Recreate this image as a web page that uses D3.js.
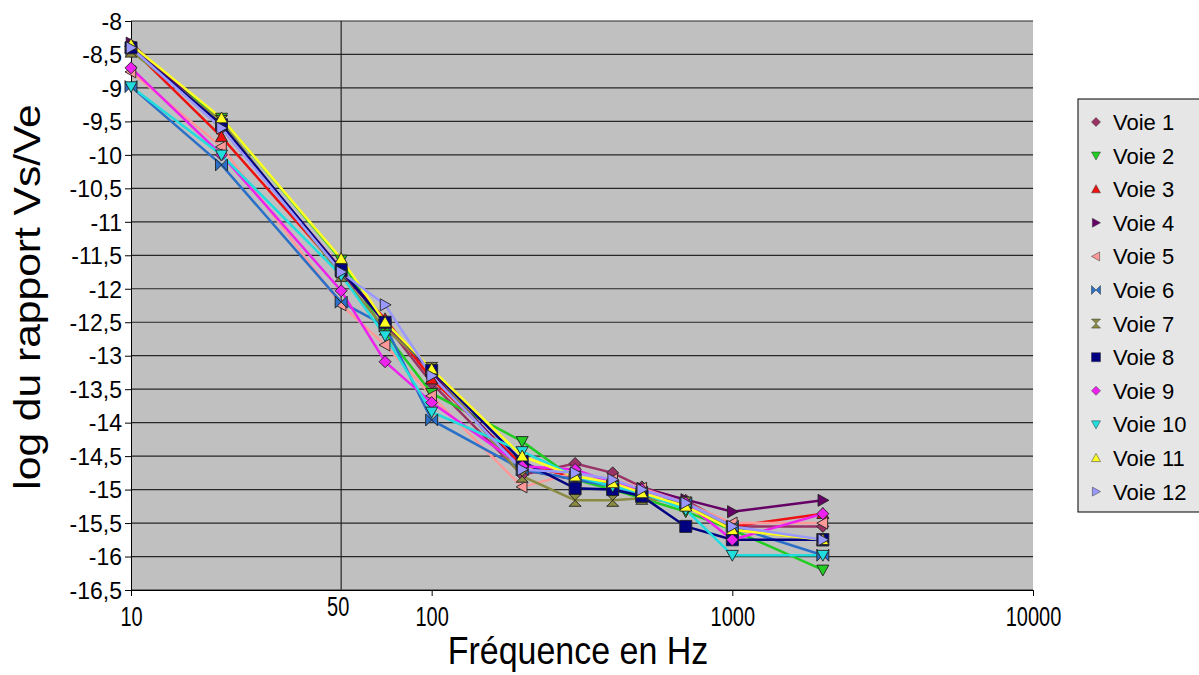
<!DOCTYPE html>
<html><head><meta charset="utf-8">
<script src="https://cdn.jsdelivr.net/npm/d3@7"></script>
<style>body{margin:0;background:#fff;} svg{display:block;font-family:Arial,"Liberation Sans",sans-serif;}</style>
</head><body>
<svg id="c" width="1199" height="675"></svg>
<script>
const frequencies = [10, 20, 50, 70, 100, 200, 300, 400, 500, 700, 1000, 2000];
const seriesNames = ["Voie 1","Voie 2","Voie 3","Voie 4","Voie 5","Voie 6","Voie 7","Voie 8","Voie 9","Voie 10","Voie 11","Voie 12"];
const voie1  = [-8.38, -9.60, -11.70, -12.52, -13.41, -14.78, -14.61, -14.75, -14.96, -15.16, -15.55, -15.55];
const voie2  = [-8.45, -9.45, -11.57, -12.66, -13.56, -14.28, -14.85, -15.00, -15.13, -15.33, -15.60, -16.20];
const voie3  = [-8.40, -9.73, -11.75, -12.45, -13.35, -14.63, -14.81, -14.90, -15.00, -15.20, -15.55, -15.36];
const voie4  = [-8.33, -9.55, -11.75, -12.50, -13.25, -14.70, -14.85, -14.93, -14.98, -15.15, -15.33, -15.16];
const voie5  = [-8.76, -9.88, -12.24, -12.84, -13.60, -14.96, -14.75, -14.85, -14.98, -15.20, -15.50, -15.50];
const voie6  = [-8.98, -10.15, -12.20, -12.55, -13.96, -14.70, -14.85, -14.95, -15.10, -15.20, -15.55, -15.98];
const voie7  = [-8.45, -9.50, -11.80, -12.60, -13.19, -14.80, -15.16, -15.16, -15.13, -15.20, -15.60, -15.75];
const voie8  = [-8.40, -9.55, -11.72, -12.50, -13.22, -14.58, -14.98, -15.00, -15.10, -15.55, -15.75, -15.75];
const voie9  = [-8.70, -10.00, -12.03, -13.09, -13.70, -14.65, -14.70, -14.90, -15.00, -15.20, -15.75, -15.36];
const voie10 = [-8.98, -10.00, -11.80, -12.70, -13.84, -14.43, -14.80, -14.95, -15.05, -15.30, -15.98, -15.98];
const voie11 = [-8.35, -9.45, -11.55, -12.50, -13.20, -14.50, -14.80, -14.90, -15.05, -15.25, -15.60, -15.75];
const voie12 = [-8.40, -9.60, -11.75, -12.24, -13.30, -14.70, -14.75, -14.85, -15.00, -15.20, -15.55, -15.75];
const seriesValues = [voie1,voie2,voie3,voie4,voie5,voie6,voie7,voie8,voie9,voie10,voie11,voie12];
const colors = ["#993366","#22cc22","#ee1111","#660066","#ff9999","#2a6fc8","#8a8a40","#000080","#ee22ee","#22dddd","#ffff22","#9999ff"];
const shapes = ["diamond","down","up","right","left","bowtie","hourglass","square","diamond","down","up","right"];
const yTicks = [-8,-8.5,-9,-9.5,-10,-10.5,-11,-11.5,-12,-12.5,-13,-13.5,-14,-14.5,-15,-15.5,-16,-16.5];
const xTicks = [10, 100, 1000, 10000];
const xMarkLine = 50;

const svg = d3.select("#c");
const L=131, R=1033, T=21, B=590;
const x = d3.scaleLog().domain([10,10000]).range([L,R]);
const y = d3.scaleLinear().domain([-16.5,-8]).range([B,T]);

svg.append("rect").attr("x",L).attr("y",T).attr("width",R-L).attr("height",B-T).attr("fill","#c0c0c0");

svg.append("g").selectAll("line").data(yTicks).join("line")
  .attr("x1",L).attr("x2",R).attr("y1",d=>y(d)).attr("y2",d=>y(d))
  .attr("stroke","#262626").attr("stroke-width",1.2);
svg.append("line").attr("x1",x(xMarkLine)).attr("x2",x(xMarkLine)).attr("y1",T).attr("y2",B).attr("stroke","#262626").attr("stroke-width",1.2);

const fmt = d => String(d).replace(".",",");
const yAxis = d3.axisLeft(y).tickValues(yTicks).tickSize(6).tickFormat(fmt);
const gy = svg.append("g").attr("transform",`translate(${L},0)`).call(yAxis);
gy.select(".domain").attr("stroke","#000");
gy.selectAll(".tick line").attr("stroke","#000");
gy.selectAll("text").attr("font-size",23).attr("fill","#000").attr("x",-9).attr("dy","0.36em").attr("font-family","Arial, Liberation Sans");

const xAxis = d3.axisBottom(x).tickValues(xTicks).tickSize(6).tickFormat(d3.format("d"));
const gx = svg.append("g").attr("transform",`translate(0,${B})`).call(xAxis);
gx.select(".domain").attr("stroke","#000");
gx.selectAll(".tick line").attr("stroke","#000");
gx.selectAll("text").attr("font-size",20).attr("fill","#000").attr("y",0).attr("dy","0.72em")
  .attr("transform","translate(0,17) scale(1,1.35)");
svg.append("text").attr("transform",`translate(${x(xMarkLine)-3},616) scale(1,1.35)`).attr("text-anchor","middle").attr("font-size",20).text(String(xMarkLine));

svg.append("text").attr("transform",`translate(578,664) scale(1,1.15)`).attr("text-anchor","middle").attr("font-size",34).text("Fréquence en Hz");
svg.append("text").attr("transform",`translate(40,${297}) rotate(-90) scale(1.15,1)`).attr("text-anchor","middle").attr("font-size",37).text("log du rapport Vs/Ve");

function shapePath(s, r){
  switch(s){
    case "diamond": return `M0,${-r}L${r},0L0,${r}L${-r},0Z`;
    case "down": return `M${-r},${-r*0.8}L${r},${-r*0.8}L0,${r}Z`;
    case "up": return `M${-r},${r*0.8}L${r},${r*0.8}L0,${-r}Z`;
    case "right": return `M${-r*0.8},${-r}L${r},0L${-r*0.8},${r}Z`;
    case "left": return `M${r*0.8},${-r}L${-r},0L${r*0.8},${r}Z`;
    case "bowtie": return `M${-r},${-r}L${r},${r}L${r},${-r}L${-r},${r}Z`;
    case "hourglass": return `M${-r},${-r}L${r},${-r}L${-r},${r}L${r},${r}Z`;
    default: return `M${-r},${-r}H${r}V${r}H${-r}Z`;
  }
}

const line = d3.line().x(d=>x(d[0])).y(d=>y(d[1]));
const gs = svg.append("g");
seriesValues.forEach((vals,i)=>{
  const pts = frequencies.map((f,j)=>[f,vals[j]]);
  gs.append("path").datum(pts).attr("d",line).attr("fill","none").attr("stroke",colors[i]).attr("stroke-width",2.5);
});
seriesValues.forEach((vals,i)=>{
  const pts = frequencies.map((f,j)=>[f,vals[j]]);
  gs.append("g").selectAll("path").data(pts).join("path")
    .attr("transform",d=>`translate(${x(d[0])},${y(d[1])})`)
    .attr("d",shapePath(shapes[i],6)).attr("fill",colors[i]).attr("stroke","#222").attr("stroke-width",0.9);
});

const lg = svg.append("g");
lg.append("rect").attr("x",1078).attr("y",99).attr("width",125).attr("height",413).attr("fill","#e6e6e6").attr("stroke","#000").attr("stroke-width",1);
seriesNames.forEach((n,i)=>{
  const yy = 122 + i*33.6;
  lg.append("path").attr("transform",`translate(1096,${yy})`).attr("d",shapePath(shapes[i],4.5)).attr("fill",colors[i]).attr("stroke","#333").attr("stroke-width",0.5);
  lg.append("text").attr("x",1113).attr("y",yy).attr("dy","0.36em").attr("font-size",22).text(n);
});
</script>
</body></html>
